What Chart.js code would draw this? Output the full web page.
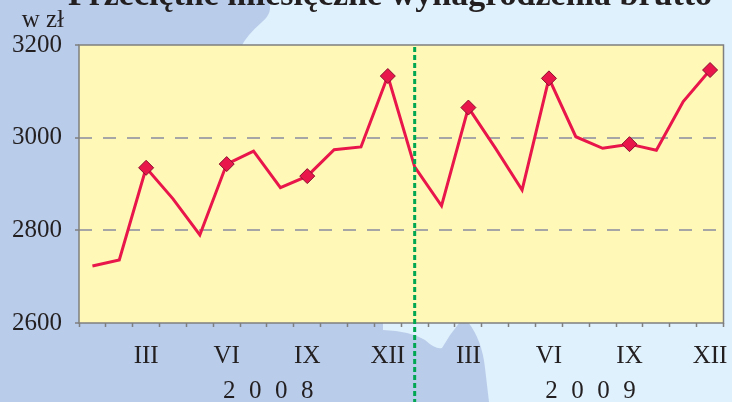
<!DOCTYPE html>
<html>
<head>
<meta charset="utf-8">
<script src="https://cdn.jsdelivr.net/npm/chart.js@4/dist/chart.umd.min.js"></script>
<style>
  html, body { margin: 0; padding: 0; background: #DFF1FC; }
  #wrap { width: 732px; height: 402px; position: relative; }
</style>
</head>
<body>
<div id="wrap"><canvas id="c" width="732" height="402"></canvas></div>
<script>
// ---- data ----
const months = ['I','II','III','IV','V','VI','VII','VIII','IX','X','XI','XII'];
const categories = months.concat(months);
const years = ['2008', '2009'];
const wages = [2723, 2736, 2935, 2868, 2790, 2943, 2971, 2892, 2917, 2974, 2980, 3133,
               2937, 2853, 3065, 2978, 2887, 3128, 3002, 2977, 2986, 2973, 3078, 3146];
const yTicks = [2600, 2800, 3000, 3200];
const gridValues = [2800, 3000];
const markedMonths = ['III', 'VI', 'IX', 'XII'];
const titleText = 'Przeciętne miesięczne wynagrodzenia brutto';
const unitText = 'w zł';

// ---- styles ----
const SERIF = '"Liberation Serif", "Times New Roman", serif';
const TEXT = '#231F20';
const RED = '#E8164B';
const DARK_BLUE = '#B9CCEA';
const LIGHT_BLUE = '#DFF1FC';
const YELLOW = '#FFF8B6';

const decor = {
  id: 'decor',
  beforeDraw(chart) {
    const ctx = chart.ctx, a = chart.chartArea;
    ctx.save();
    // map-like background
    ctx.fillStyle = LIGHT_BLUE;
    ctx.fillRect(0, 0, chart.width, chart.height);
    ctx.fillStyle = DARK_BLUE;
    ctx.beginPath();
    ctx.moveTo(0, 0);
    ctx.lineTo(268, 0);
    ctx.quadraticCurveTo(274, 12, 262, 22);
    ctx.quadraticCurveTo(246, 36, 241, 47);
    ctx.lineTo(241, 300);
    ctx.lineTo(468, 300);
    ctx.lineTo(468, 322);
    ctx.quadraticCurveTo(482, 340, 485, 368);
    ctx.lineTo(489, 402);
    ctx.lineTo(0, 402);
    ctx.closePath();
    ctx.fill();
    // light pocket below axis
    ctx.fillStyle = LIGHT_BLUE;
    ctx.beginPath();
    ctx.moveTo(383, 322);
    ctx.lineTo(383, 330);
    ctx.quadraticCurveTo(410, 331, 425, 340);
    ctx.quadraticCurveTo(436, 350, 442, 348);
    ctx.quadraticCurveTo(450, 334, 460, 322);
    ctx.closePath();
    ctx.fill();
    // plot area
    ctx.fillStyle = YELLOW;
    ctx.fillRect(a.left, a.top, a.right - a.left, a.bottom - a.top);
    // title (cut at top)
    ctx.fillStyle = TEXT;
    ctx.font = 'bold 34px ' + SERIF;
    ctx.textAlign = 'center';
    ctx.textBaseline = 'alphabetic';
    ctx.fillText(titleText, 390, 5);
    // unit
    ctx.font = '25px ' + SERIF;
    ctx.textAlign = 'right';
    ctx.textBaseline = 'middle';
    ctx.fillText(unitText, 64, 20);
    ctx.restore();
  },
  beforeDatasetsDraw(chart) {
    const ctx = chart.ctx, a = chart.chartArea;
    ctx.save();
    ctx.strokeStyle = '#7F7F7F';
    ctx.lineWidth = 1.5;
    ctx.strokeRect(a.left, a.top, a.right - a.left, a.bottom - a.top);
    ctx.restore();
  },
  afterDatasetsDraw(chart) {
    const ctx = chart.ctx, a = chart.chartArea, xs = chart.scales.x;
    ctx.save();
    const gx = xs.getPixelForValue(12);
    ctx.strokeStyle = '#00A651';
    ctx.lineWidth = 3;
    ctx.setLineDash([5, 3]);
    ctx.beginPath();
    ctx.moveTo(gx, a.top + 2);
    ctx.lineTo(gx, chart.height);
    ctx.stroke();
    ctx.restore();
  },
  afterDraw(chart) {
    const ctx = chart.ctx, xs = chart.scales.x;
    ctx.save();
    ctx.fillStyle = TEXT;
    ctx.font = '25px ' + SERIF;
    ctx.textAlign = 'center';
    ctx.textBaseline = 'middle';
    years.forEach((yr, k) => {
      const cx = xs.getPixelForValue(k * 12 + 6.55);
      const chars = yr.split('');
      chars.forEach((ch, j) => {
        ctx.fillText(ch, cx + (j - (chars.length - 1) / 2) * 26, 391);
      });
    });
    ctx.restore();
  }
};

new Chart(document.getElementById('c'), {
  type: 'line',
  data: {
    labels: categories,
    datasets: [{
      data: wages,
      borderColor: RED,
      borderWidth: 3,
      tension: 0,
      fill: false,
      pointStyle: 'rectRot',
      pointRadius: (c) => markedMonths.includes(categories[c.dataIndex]) ? 7.5 : 0,
      pointHoverRadius: (c) => markedMonths.includes(categories[c.dataIndex]) ? 7.5 : 0,
      pointBackgroundColor: RED,
      pointBorderColor: '#8C1030',
      pointBorderWidth: 1
    }]
  },
  options: {
    responsive: false,
    animation: false,
    events: [],
    layout: { padding: { top: 45, right: 4, left: 0, bottom: 0 } },
    plugins: { legend: { display: false }, tooltip: { enabled: false }, title: { display: false } },
    scales: {
      x: {
        type: 'category',
        offset: true,
        afterFit: (s) => { s.height = 79; s.paddingLeft = 0; s.paddingRight = 0; },
        grid: { display: true, offset: true, drawOnChartArea: false, drawTicks: true,
                tickLength: 4, tickColor: '#7F7F7F', tickWidth: 1.5 },
        border: { display: false },
        ticks: {
          autoSkip: false, maxRotation: 0, padding: 14,
          color: TEXT, font: { family: SERIF, size: 25 },
          callback: (v, i) => markedMonths.includes(categories[i]) ? categories[i] : ''
        }
      },
      y: {
        min: yTicks[0], max: yTicks[yTicks.length - 1],
        afterFit: (s) => { s.width = 79; s.paddingTop = 0; s.paddingBottom = 0; },
        afterBuildTicks: (s) => { s.ticks = yTicks.map(v => ({ value: v })); },
        grid: {
          drawOnChartArea: true, drawTicks: true, tickLength: 4, tickWidth: 1.5,
          tickColor: '#7F7F7F', lineWidth: 2,
          color: (c) => (c.tick && gridValues.includes(c.tick.value)) ? '#A6A6A6' : 'rgba(0,0,0,0)'
        },
        border: { display: false, dash: [13, 11] },
        ticks: { padding: 13, color: TEXT, font: { family: SERIF, size: 25 },
                 callback: (v) => String(v) }
      }
    }
  },
  plugins: [decor]
});
</script>
</body>
</html>
